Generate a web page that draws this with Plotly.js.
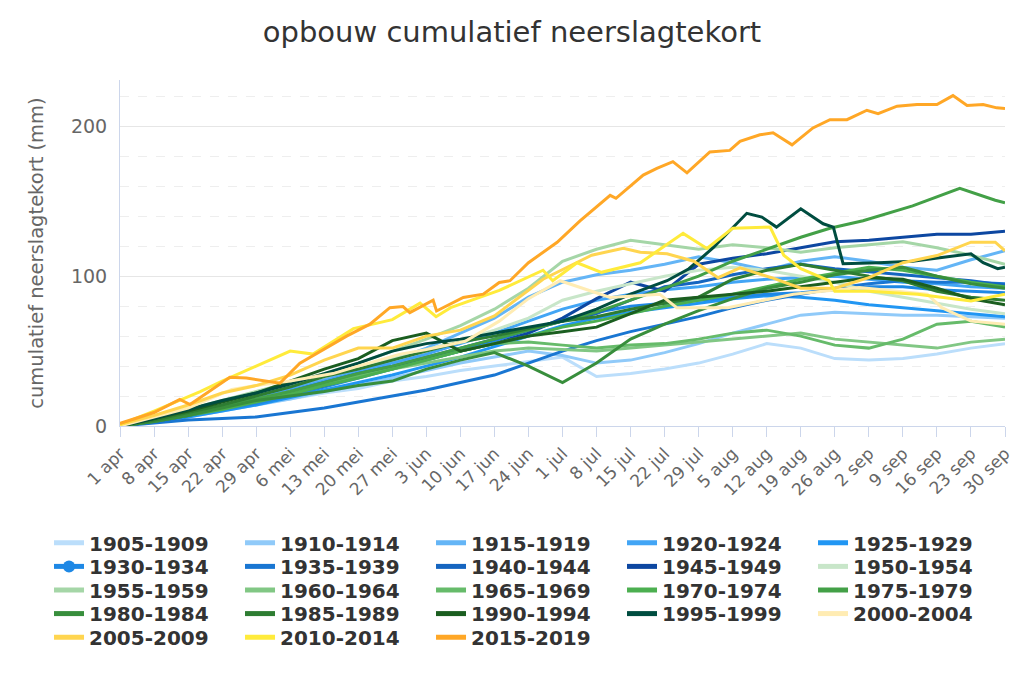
<!DOCTYPE html>
<html>
<head>
<meta charset="utf-8">
<script src="https://cdn.plot.ly/plotly-3.0.1.min.js"></script>
<style>
  html, body { margin: 0; padding: 0; background: #fff; }
  #chart { width: 1024px; height: 683px; }
</style>
</head>
<body>
<div id="chart"></div>
<script>
// tick labels, one per week from 1 apr (day 0) to 30 sep (day 182)
var dateLabels = ["1 apr", "8 apr", "15 apr", "22 apr", "29 apr", "6 mei", "13 mei", "20 mei", "27 mei",
    "3 jun", "10 jun", "17 jun", "24 jun", "1 jul", "8 jul", "15 jul", "22 jul", "29 jul",
    "5 aug", "12 aug", "19 aug", "26 aug", "2 sep", "9 sep", "16 sep", "23 sep", "30 sep"];
var tickDays = dateLabels.map(function (d, i) { return i * 7; });

var periods = ["1905-1909", "1910-1914", "1915-1919", "1920-1924", "1925-1929", "1930-1934",
    "1935-1939", "1940-1944", "1945-1949", "1950-1954", "1955-1959", "1960-1964", "1965-1969",
    "1970-1974", "1975-1979", "1980-1984", "1985-1989", "1990-1994", "1995-1999", "2000-2004",
    "2005-2009", "2010-2014", "2015-2019"];

// weekly readings (on the tick days)
var s1905 = [0, 4, 7, 11, 15, 18, 22, 25, 30, 33, 37, 40, 43, 46, 33, 35, 38, 42, 48, 55, 52, 45, 44, 45, 48, 52, 55];
var s1910 = [0, 3, 6, 10, 14, 18, 23, 27, 32, 37, 42, 46, 50, 47, 42, 44, 49, 55, 62, 68, 74, 76, 75, 74, 74, 73, 72];
var s1915 = [0, 4, 9, 14, 19, 25, 31, 37, 44, 52, 62, 72, 86, 96, 101, 104, 108, 113, 109, 104, 110, 113, 110, 106, 104, 111, 117];
var s1920 = [0, 4, 9, 13, 18, 24, 30, 36, 42, 48, 55, 62, 70, 78, 84, 88, 91, 93, 96, 98, 99, 100, 98, 96, 95, 93, 92];
var s1925 = [0, 3, 6, 10, 14, 19, 24, 29, 34, 40, 46, 53, 60, 67, 72, 76, 79, 82, 85, 87, 86, 84, 81, 79, 77, 75, 73];
var s1930 = [0, 3, 7, 11, 15, 20, 26, 32, 38, 44, 50, 57, 64, 71, 76, 80, 82, 84, 86, 88, 89, 91, 93, 93, 91, 90, 89];
var s1935 = [0, 2, 4, 5, 6, 9, 12, 16, 20, 24, 29, 34, 42, 50, 57, 63, 68, 73, 79, 84, 88, 92, 95, 97, 96, 96, 95];
var s1940 = [0, 4, 8, 13, 18, 23, 29, 35, 40, 46, 52, 58, 64, 70, 75, 84, 93, 96, 101, 105, 108, 105, 103, 101, 99, 97, 94];
var s1945 = [0, 3, 7, 12, 17, 22, 27, 33, 39, 45, 50, 55, 62, 72, 85, 96, 90, 108, 112, 115, 119, 123, 124, 126, 128, 128, 130];
var s1950 = [0, 5, 10, 15, 21, 27, 33, 39, 45, 51, 57, 64, 72, 84, 90, 95, 100, 104, 106, 104, 100, 96, 90, 86, 82, 78, 75];
var s1955 = [0, 5, 11, 17, 23, 29, 35, 42, 50, 58, 67, 78, 92, 110, 118, 124, 121, 118, 121, 119, 116, 119, 121, 123, 119, 114, 108];
var s1960 = [0, 4, 8, 13, 18, 23, 28, 33, 38, 42, 46, 50, 52, 51, 50, 52, 54, 56, 58, 60, 62, 58, 56, 54, 52, 56, 58];
var s1965 = [0, 4, 8, 12, 17, 22, 28, 33, 38, 44, 50, 55, 56, 54, 52, 54, 55, 58, 62, 64, 60, 54, 52, 58, 68, 70, 66];
var s1970 = [0, 3, 7, 11, 16, 21, 27, 32, 38, 44, 50, 55, 60, 66, 70, 75, 80, 84, 88, 93, 98, 102, 106, 104, 100, 96, 93];
var s1980 = [0, 3, 7, 12, 17, 20, 23, 27, 30, 38, 44, 49, 40, 29, 42, 58, 68, 77, 85, 92, 96, 101, 104, 106, 100, 95, 92];
var s1985 = [0, 4, 9, 14, 20, 26, 33, 38, 44, 50, 56, 60, 65, 70, 73, 78, 82, 86, 98, 104, 108, 104, 100, 97, 90, 86, 84];
var s1990 = [0, 5, 10, 16, 22, 30, 38, 45, 57, 62, 50, 55, 60, 63, 66, 75, 84, 86, 88, 90, 93, 96, 99, 98, 92, 85, 81];

// series read in more detail (own day positions)
var d1975 = [0, 7, 14, 21, 28, 35, 42, 49, 56, 63, 70, 77, 84, 91, 98, 105, 112, 119, 126, 134, 140, 146, 152.8, 163, 172.7, 180, 182];
var s1975 = [0, 4, 8, 13, 18, 23, 29, 35, 40, 46, 52, 58, 64, 70, 76, 84, 92, 100, 110, 119, 126, 132, 137, 147, 158.6, 150.7, 149];
var d1995 = [0, 7, 14, 21, 28, 35, 42, 49, 56, 63, 70, 77, 84, 91, 98, 105, 112.5, 117, 122, 128.9, 132, 135, 140, 144.6, 146.7, 148.7, 156, 163, 175, 177.5, 180.5, 182];
var s1995 = [0, 5, 11, 17, 22, 28, 35, 42, 50, 55, 58, 62, 66, 70, 78, 88, 97, 105, 119, 142, 139.5, 132.8, 145, 135, 132.8, 108.4, 109, 110, 115, 109, 105, 106];
var d2000 = [0, 7, 14, 23, 28, 35, 43.8, 49, 57.6, 63, 71, 78, 84, 90.5, 100.8, 111, 114.5, 125, 138.5, 152, 166, 169, 175, 182];
var s2000 = [0, 6, 12, 24.4, 27, 30, 35, 40, 48, 51, 56.6, 70, 85, 97, 85.8, 88, 79, 79, 88, 92.5, 88, 79, 70, 68];
var d2005 = [0, 7, 14, 21, 28, 35, 42, 49, 56, 63, 70, 77, 87, 97, 103.5, 107, 112.5, 118, 123, 127.5, 134, 140, 147, 154, 161, 168, 175, 180, 182];
var s2005 = [1, 7, 14, 22, 27, 34, 44, 52, 52, 60, 64, 73.5, 98, 114, 118.7, 116, 115, 110, 99, 105.6, 99, 92, 92, 99, 109, 113.8, 122.7, 122.7, 117];
var d2010 = [0, 7, 16.5, 21, 28, 35, 39.7, 48, 56, 61.7, 65, 68, 78, 87, 89, 94, 99, 107, 115.8, 120.7, 126, 133.7, 136.5, 140, 145.8, 147, 154, 164, 175, 182];
var s2010 = [1, 10, 23, 30, 40, 50, 48, 65, 71, 82, 73, 79, 90.5, 104, 97, 109, 102.6, 109, 128.6, 118.5, 132, 132.8, 114, 105, 97, 90, 90, 88, 83.5, 88];
var d2015 = [0, 7, 12.3, 14.4, 22.6, 26, 32.9, 37, 46.6, 51.4, 55.5, 58.2, 59.6, 64.4, 65.1, 70.6, 74.7, 78, 80.2, 84, 89.9,
    94.6, 100.8, 102, 107.6, 110.4, 113.7, 116.6, 121.3, 125.4, 127.5, 131.6, 134.3, 138.2, 142.5, 146, 149.5, 153.6,
    155.9, 159.8, 163.9, 168, 171.3, 174.2, 177.5, 180.3, 182];
var s2015 = [1.7, 9, 17.7, 14.3, 32.5, 32, 28.6, 42, 60, 68, 79, 79.7, 75.7, 84, 76.8, 85.8, 88, 95.8, 97, 109, 122.7,
    137, 154, 152, 167.5, 172, 176.5, 169, 183, 184, 190, 194.4, 195.8, 187.7, 199, 204.5, 204.5, 210.8,
    208.5, 213.5, 214.6, 214.6, 220.6, 214, 214.6, 212.4, 212];

var allSeries = [s1905, s1910, s1915, s1920, s1925, s1930, s1935, s1940, s1945, s1950, s1955, s1960,
    s1965, s1970, s1975, s1980, s1985, s1990, s1995, s2000, s2005, s2010, s2015];
var allDays = [tickDays, tickDays, tickDays, tickDays, tickDays, tickDays, tickDays, tickDays, tickDays,
    tickDays, tickDays, tickDays, tickDays, tickDays, d1975, tickDays, tickDays, tickDays, d1995, d2000,
    d2005, d2010, d2015];

var colors = ["#BBDEFB", "#90CAF9", "#64B5F6", "#42A5F5", "#2196F3", "#1E88E5", "#1976D2", "#1565C0",
    "#0D47A1", "#C8E6C9", "#A5D6A7", "#81C784", "#66BB6A", "#4CAF50", "#43A047", "#388E3C",
    "#2E7D32", "#1B5E20", "#004D40", "#FFECB3", "#FFD54F", "#FFEB3B", "#FFA726"];

// legend: 5 entries per row, one plotly legend per row
var legendIds = ["legend", "legend2", "legend3", "legend4", "legend5"];

var traces = periods.map(function (name, i) {
    var t = {
        x: allDays[i],
        y: allSeries[i],
        name: name,
        type: "scatter",
        mode: "lines",
        line: {color: colors[i], width: 3},
        legend: legendIds[Math.floor(i / 5)],
        hoverinfo: "skip"
    };
    // 1930-1934 is shown highlighted in the legend
    if (name === "1930-1934") {
        t.mode = "lines+markers";
        t.marker = {size: 0.01, color: colors[i], line: {width: 0}};
    }
    return t;
});

function legendRow(row) {
    return {
        orientation: "h",
        xref: "paper", yref: "paper",
        x: -0.0802, xanchor: "left",
        y: -0.2812 - row * 0.0682, yanchor: "top",
        entrywidth: 146,
        itemsizing: "constant",
        bgcolor: "rgba(0,0,0,0)",
        font: {size: 20, color: "#333", weight: "bold"},
        traceorder: "normal"
    };
}

var layout = {
    width: 1024,
    height: 683,
    margin: {l: 120, r: 19, t: 80, b: 257},
    paper_bgcolor: "#fff",
    plot_bgcolor: "#fff",
    font: {family: "DejaVu Sans, sans-serif", color: "#666"},
    title: {
        text: "opbouw cumulatief neerslagtekort",
        font: {size: 29, color: "#333"},
        x: 0.5, xref: "container", xanchor: "center",
        y: 0.953, yref: "container", yanchor: "middle"
    },
    showlegend: true,
    legend: legendRow(0),
    legend2: legendRow(1),
    legend3: legendRow(2),
    legend4: legendRow(3),
    legend5: legendRow(4),
    xaxis: {
        range: [0, 182],
        tickvals: tickDays,
        ticktext: dateLabels,
        tickangle: -45,
        tickfont: {size: 17, color: "#666"},
        ticks: "outside",
        ticklen: 10,
        tickcolor: "#ccd6eb",
        showline: true,
        linecolor: "#ccd6eb",
        linewidth: 1,
        showgrid: false,
        zeroline: false,
        fixedrange: true
    },
    yaxis: {
        range: [0, 231],
        dtick: 100,
        tick0: 0,
        tickfont: {size: 19, color: "#666"},
        ticks: "",
        ticklabelstandoff: 8,
        showline: true,
        linecolor: "#ccd6eb",
        linewidth: 1,
        gridcolor: "#e6e6e6",
        gridwidth: 1,
        zeroline: false,
        minor: {dtick: 20, showgrid: true, gridcolor: "#eeeeee", griddash: "dash", gridwidth: 1},
        title: {text: "cumulatief neerslagtekort (mm)", font: {size: 19.5, color: "#666"}, standoff: 22},
        fixedrange: true
    }
};

Plotly.newPlot("chart", traces, layout, {displayModeBar: false, staticPlot: true});
</script>
</body>
</html>
